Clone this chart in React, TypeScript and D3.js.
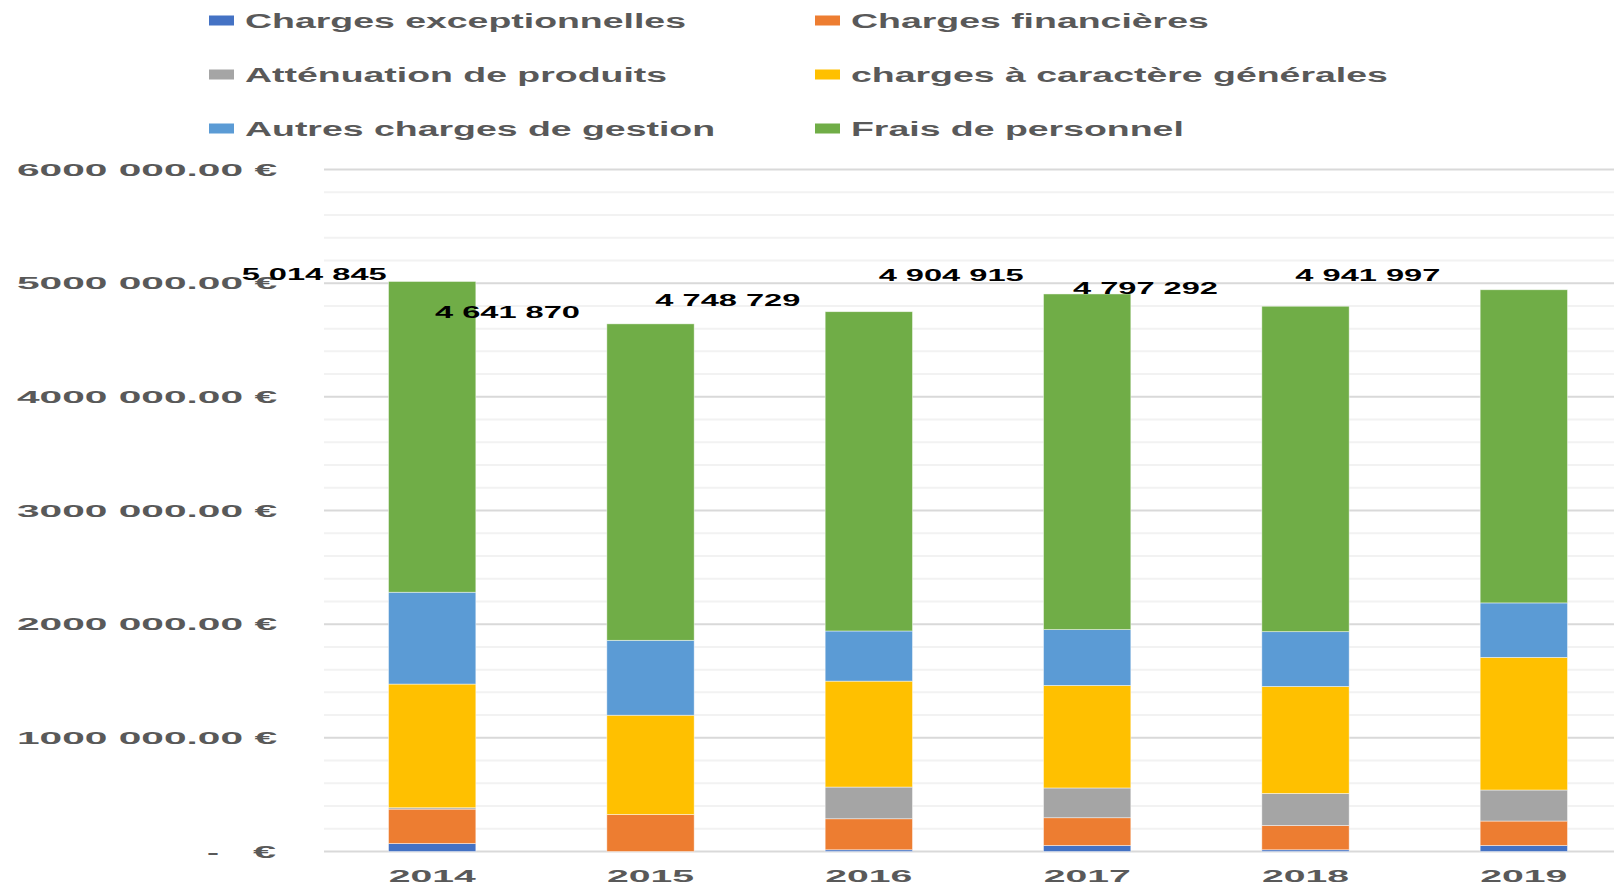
import React from 'react';
import * as d3 from 'd3';

const years = ['2014', '2015', '2016', '2017', '2018', '2019'];
const seriesNames = [
  'Charges exceptionnelles',
  'Charges financières',
  'Atténuation de produits',
  'charges à caractère générales',
  'Autres charges de gestion',
  'Frais de personnel',
];
const seriesColors = ['#4472C4', '#ED7D31', '#A5A5A5', '#FFC000', '#5B9BD5', '#70AD47'];

const chargesExceptionnelles = [70000, 0, 15000, 53000, 15000, 53000];
const chargesFinancieres = [303000, 326000, 273000, 244000, 214000, 215000];
const attenuationProduits = [12000, 0, 279000, 262000, 282000, 273000];
const chargesGenerales = [1088000, 873000, 932000, 902000, 941000, 1167000];
const autresCharges = [808000, 659000, 441000, 491000, 482000, 479000];
const fraisPersonnel = [2734000, 2784000, 2809000, 2953000, 2863000, 2755000];
const totals = [5014845, 4641870, 4748729, 4904915, 4797292, 4941997];

const yTickValues = [0, 1000000, 2000000, 3000000, 4000000, 5000000, 6000000];
const yTickLabels = ['', '1000 000.00 €', '2000 000.00 €', '3000 000.00 €', '4000 000.00 €', '5000 000.00 €', '6000 000.00 €'];

// layout constants (not data)
const W = 1614;
const H = 887;
const FONT = '"Liberation Sans", Arial, sans-serif';
const labelDx = [-118, -143, -141, -136, -160, -156];
const labelDy = [-7, -12, -11.5, -19, -18.5, -15];

const allSeries = [
  chargesExceptionnelles,
  chargesFinancieres,
  attenuationProduits,
  chargesGenerales,
  autresCharges,
  fraisPersonnel,
];

function measure(text: string, font: string): number {
  try {
    const c = document.createElement('canvas');
    const ctx = c.getContext('2d');
    if (ctx) {
      ctx.font = font;
      return ctx.measureText(text).width;
    }
  } catch (e) {}
  return text.length * 11;
}

export default function App() {
  const rows = years.map((y, i) => {
    const o: any = { year: y };
    seriesNames.forEach((n, j) => (o[n] = allSeries[j][i]));
    return o;
  });
  const stacked = d3.stack().keys(seriesNames)(rows);

  const x = d3.scaleBand().domain(years).range([323, 1633]).padding(0);
  const y = d3.scaleLinear().domain([0, 6000000]).range([851.5, 169.5]);
  const barW = x.bandwidth() * 0.4;
  const gridVals = d3.range(0, 6000001, 200000);

  const legendFont = `bold 20px ${FONT}`;
  const k = 441 / measure('Charges exceptionnelles', legendFont);
  const fmt = (v: number) => d3.format(',')(v).replace(/,/g, ' ');

  return (
    <svg
      width={W}
      height={H}
      style={{ position: 'fixed', left: 0, top: 0, background: '#fff' }}
      fontFamily={FONT}
    >
      <rect x={0} y={0} width={W} height={H} fill="#fff" />
      {gridVals.map((v) => {
        const major = v % 1000000 === 0;
        return (
          <line
            key={v}
            x1={324}
            x2={W}
            y1={y(v)}
            y2={y(v)}
            stroke={major ? '#D9D9D9' : '#F2F2F2'}
            strokeWidth={2}
          />
        );
      })}
      {yTickValues.map((v, i) =>
        v === 0 ? (
          <g key={v} fill="#595959" fontWeight="bold" fontSize={17}>
            <text x={213} y={y(v) + 6} textAnchor="middle" textLength={12} lengthAdjust="spacingAndGlyphs">-</text>
            <text x={276} y={y(v) + 6} textAnchor="end" textLength={23} lengthAdjust="spacingAndGlyphs">€</text>
          </g>
        ) : (
          <text
            key={v}
            x={17}
            y={y(v) + 6}
            fill="#595959"
            fontWeight="bold"
            fontSize={17}
            textLength={260}
            lengthAdjust="spacingAndGlyphs"
          >
            {yTickLabels[i]}
          </text>
        )
      )}
      {stacked.map((s, j) => (
        <g key={s.key} fill={seriesColors[j]}>
          {s.map((d, i) => {
            const h = y(d[0]) - y(d[1]);
            if (h <= 0) return null;
            const cx = (x(years[i]) as number) + x.bandwidth() / 2;
            return (
              <rect
                key={i}
                x={cx - barW / 2}
                y={y(d[1])}
                width={barW}
                height={h}
                stroke="#ffffff"
                strokeOpacity={0.6}
                strokeWidth={0.75}
              />
            );
          })}
        </g>
      ))}
      {totals.map((t, i) => {
        const cx = (x(years[i]) as number) + x.bandwidth() / 2;
        return (
          <text
            key={i}
            x={cx + labelDx[i]}
            y={y(t) + labelDy[i] + 6}
            textAnchor="middle"
            fontWeight="bold"
            fontSize={16}
            fill="#000"
            textLength={145}
            lengthAdjust="spacingAndGlyphs"
          >
            {fmt(t)}
          </text>
        );
      })}
      {years.map((yr) => {
        const cx = (x(yr) as number) + x.bandwidth() / 2;
        return (
          <text
            key={yr}
            x={cx}
            y={882}
            textAnchor="middle"
            fontWeight="bold"
            fontSize={16}
            fill="#595959"
            textLength={87}
            lengthAdjust="spacingAndGlyphs"
          >
            {yr}
          </text>
        );
      })}
      {seriesNames.map((n, j) => {
        const col = j % 2;
        const row = Math.floor(j / 2);
        const sx = col === 0 ? 209 : 815;
        const tx = col === 0 ? 245 : 851;
        const cy = 20.5 + row * 54;
        const tw = measure(n, legendFont) * k;
        return (
          <g key={n}>
            <rect x={sx} y={cy - 5} width={25} height={10} fill={seriesColors[j]} />
            <text
              x={tx}
              y={cy + 7}
              fontWeight="bold"
              fontSize={20}
              fill="#595959"
              textLength={tw}
              lengthAdjust="spacingAndGlyphs"
            >
              {n}
            </text>
          </g>
        );
      })}
    </svg>
  );
}
